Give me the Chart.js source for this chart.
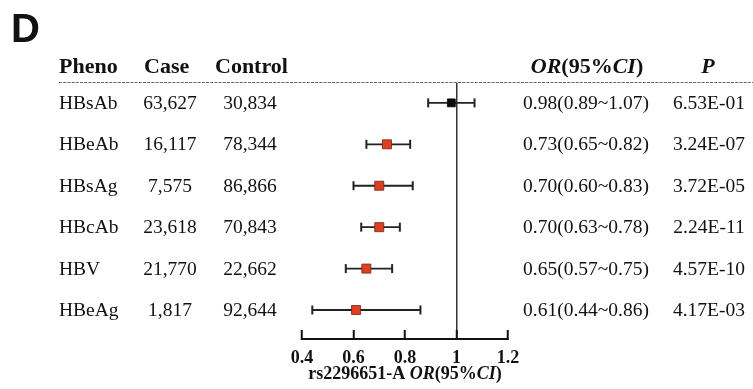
<!DOCTYPE html>
<html>
<head>
<meta charset="utf-8">
<script src="https://cdn.jsdelivr.net/npm/chart.js@4.4.1/dist/chart.umd.min.js"></script>
<style>
  html, body { margin: 0; padding: 0; background: #fff; }
  #wrap { width: 753px; height: 389px; position: relative; }
</style>
</head>
<body>
<div id="wrap"><canvas id="c" width="753" height="389"></canvas></div>
<script>
// forest plot data
const phenos = ['HBsAb', 'HBeAb', 'HBsAg', 'HBcAb', 'HBV', 'HBeAg'];
const cases = ['63,627', '16,117', '7,575', '23,618', '21,770', '1,817'];
const controls = ['30,834', '78,344', '86,866', '70,843', '22,662', '92,644'];
const orValues = [0.98, 0.73, 0.70, 0.70, 0.65, 0.61];
const ciLow = [0.89, 0.65, 0.60, 0.63, 0.57, 0.44];
const ciHigh = [1.07, 0.82, 0.83, 0.78, 0.75, 0.86];
const pValues = ['6.53E-01', '3.24E-07', '3.72E-05', '2.24E-11', '4.57E-10', '4.17E-03'];
const xTicks = [0.4, 0.6, 0.8, 1, 1.2];

const serif = '"Liberation Serif", "Times New Roman", serif';
const red = '#df3f1f';

// CI segments: lo, hi, gap
const ciPoints = [];
phenos.forEach((p, i) => {
    ciPoints.push({ x: ciLow[i], y: i }, { x: ciHigh[i], y: i }, { x: null, y: null });
});

// draws pieces of text with some of them in italic, centred on cx
function mixedText(ctx, parts, cx, y, size) {
    let w = 0;
    parts.forEach(([t, it]) => {
        ctx.font = (it ? 'italic ' : '') + 'bold ' + size + 'px ' + serif;
        w += ctx.measureText(t).width;
    });
    let x = cx - w / 2;
    ctx.textAlign = 'left';
    parts.forEach(([t, it]) => {
        ctx.font = (it ? 'italic ' : '') + 'bold ' + size + 'px ' + serif;
        ctx.fillText(t, x, y);
        x += ctx.measureText(t).width;
    });
}

const tablePlugin = {
    id: 'table',
    afterDraw(chart) {
        const ctx = chart.ctx;
        const ys = chart.scales.y;
        const xs = chart.scales.x;
        ctx.save();
        ctx.fillStyle = '#111';

        // panel letter
        ctx.font = 'bold 40px "Liberation Sans", Arial, sans-serif';
        ctx.textBaseline = 'alphabetic';
        ctx.textAlign = 'left';
        ctx.fillText('D', 11, 42);

        // headers
        ctx.textBaseline = 'middle';
        ctx.font = 'bold 22px ' + serif;
        ctx.textAlign = 'left';
        ctx.fillText('Pheno', 59, 67);
        ctx.fillText('Case', 144, 67);
        ctx.fillText('Control', 215, 67);
        mixedText(ctx, [['OR', true], ['(95%', false], ['CI', true], [')', false]], 587, 67, 22);
        ctx.textAlign = 'center';
        ctx.font = 'italic bold 22px ' + serif;
        ctx.fillText('P', 708, 67);

        // dashed separator
        ctx.strokeStyle = '#666';
        ctx.lineWidth = 1;
        ctx.setLineDash([3, 1.2]);
        ctx.beginPath();
        ctx.moveTo(59, 82.5);
        ctx.lineTo(753, 82.5);
        ctx.stroke();
        ctx.setLineDash([]);

        // rows
        ctx.font = '19.5px ' + serif;
        phenos.forEach((p, i) => {
            const y = ys.getPixelForValue(i) + 1;
            ctx.textAlign = 'left';
            ctx.fillText(p, 59, y);
            ctx.textAlign = 'center';
            ctx.fillText(cases[i], 170, y);
            ctx.fillText(controls[i], 250, y);
            const orTxt = orValues[i].toFixed(2) + '(' + ciLow[i].toFixed(2) + '~' + ciHigh[i].toFixed(2) + ')';
            ctx.fillText(orTxt, 586, y);
            ctx.fillText(pValues[i], 709, y);
        });

        // axis title
        mixedText(ctx, [['rs2296651-A ', false], ['OR', true], ['(95%', false], ['CI', true], [')', false]],
            (xs.left + xs.right) / 2, 374, 18);
        ctx.restore();
    }
};

new Chart(document.getElementById('c'), {
    type: 'scatter',
    data: {
        datasets: [
            {
                label: 'CI',
                data: ciPoints,
                showLine: true,
                spanGaps: false,
                borderColor: '#222',
                borderWidth: 1.8,
                pointStyle: 'line',
                pointRotation: 90,
                pointRadius: 4.5,
                pointBorderColor: '#222',
                pointBorderWidth: 2,
                order: 2
            },
            {
                label: 'OR',
                data: orValues.map((v, i) => ({ x: v, y: i })),
                pointStyle: 'rect',
                pointRadius: ctx => ctx.dataIndex === 0 ? 5.6 : 6.4,
                backgroundColor: ctx => ctx.dataIndex === 0 ? '#0a0a0a' : red,
                pointBorderColor: ctx => ctx.dataIndex === 0 ? '#0a0a0a' : '#6a2a1a',
                pointBorderWidth: 0.8,
                order: 1
            }
        ]
    },
    options: {
        responsive: false,
        animation: false,
        layout: { padding: { left: 302, right: 245, top: 83, bottom: 0 } },
        plugins: { legend: { display: false }, tooltip: { enabled: false } },
        scales: {
            x: {
                type: 'linear',
                min: 0.4,
                max: 1.2,
                afterBuildTicks: s => { s.ticks = xTicks.map(v => ({ value: v })); },
                afterFit: s => { s.height = 50; },
                grid: {
                    drawOnChartArea: true,
                    color: ctx => ctx.tick && ctx.tick.value === 1 ? '#333' : 'rgba(0,0,0,0)',
                    lineWidth: 1.5,
                    tickColor: '#111',
                    tickLength: -9,
                    tickWidth: 2
                },
                border: { display: true, color: '#111', width: 2 },
                ticks: {
                    color: '#111',
                    padding: 18,
                    font: { family: serif, size: 18, weight: 'bold' },
                    callback: v => String(v)
                },
                title: { display: false }
            },
            y: {
                type: 'linear',
                display: false,
                reverse: true,
                min: -0.48,
                max: 5.7
            }
        }
    },
    plugins: [tablePlugin]
});
</script>
</body>
</html>
